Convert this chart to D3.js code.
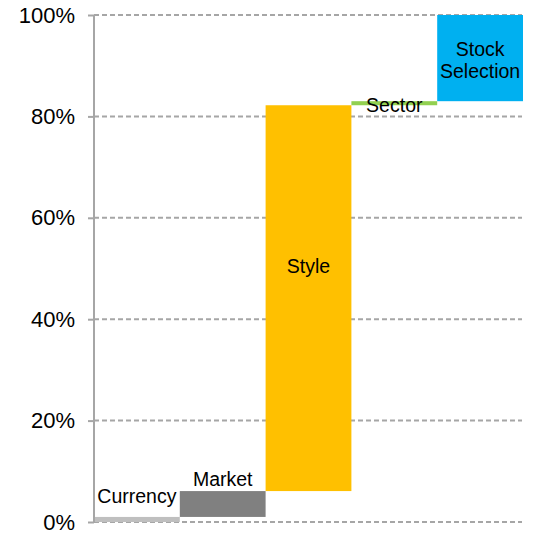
<!DOCTYPE html>
<html>
<head>
<meta charset="utf-8">
<script src="https://cdn.jsdelivr.net/npm/d3@7"></script>
<style>
  body { margin: 0; background: #fff; }
  text { font-family: "Liberation Sans", Arial, sans-serif; fill: #000; }
</style>
</head>
<body>
<div id="chart"></div>
<script>
// waterfall data (percent)
const categories = ["Currency", "Market", "Style", "Sector", "Stock Selection"];
const startValues = [0, 1.0, 6.1, 82.2, 83.0];
const endValues = [1.0, 6.1, 82.2, 83.0, 100];
const barColors = ["#BFBFBF", "#808080", "#FFC000", "#92D050", "#00B0F0"];
const labelLines = [["Currency"], ["Market"], ["Style"], ["Sector"], ["Stock", "Selection"]];
const yTicks = [0, 20, 40, 60, 80, 100];

const width = 533, height = 539;
const margin = { left: 94, right: 10, top: 15, bottom: 17 };

const svg = d3.select("#chart").append("svg")
    .attr("width", width)
    .attr("height", height);

const xScale = d3.scaleBand()
    .domain(categories)
    .range([margin.left, width - margin.right])
    .padding(0);

const yScale = d3.scaleLinear()
    .domain([0, 100])
    .range([height - margin.bottom, margin.top]);

// gridlines
svg.append("g")
    .selectAll("line")
    .data(yTicks)
    .enter().append("line")
    .attr("x1", margin.left)
    .attr("x2", width - margin.right - 1)
    .attr("y1", d => yScale(d))
    .attr("y2", d => yScale(d))
    .attr("stroke", "#A6A6A6")
    .attr("stroke-width", 2)
    .attr("stroke-dasharray", "5,3");

const data = categories.map((c, i) => ({
    cat: c, lo: startValues[i], hi: endValues[i], color: barColors[i], lines: labelLines[i]
}));

// bars
svg.append("g")
    .selectAll("rect")
    .data(data)
    .enter().append("rect")
    .attr("x", d => xScale(d.cat))
    .attr("width", xScale.bandwidth())
    .attr("y", d => yScale(d.hi))
    .attr("height", d => yScale(d.lo) - yScale(d.hi))
    .attr("fill", d => d.color);

// y axis
const yAxis = svg.append("g")
    .attr("transform", "translate(" + margin.left + ",0)")
    .call(d3.axisLeft(yScale).tickValues(yTicks).tickSize(6).tickPadding(13).tickFormat(d => d + "%"));

yAxis.select(".domain")
    .attr("stroke", "#A6A6A6")
    .attr("stroke-width", 2)
    .attr("d", "M0," + yScale(100) + "V" + yScale(0));
yAxis.selectAll(".tick line").attr("stroke", "#A6A6A6").attr("stroke-width", 2);
yAxis.selectAll(".tick text")
    .style("font-family", "'Liberation Sans', Arial, sans-serif")
    .style("font-size", "22px")
    .attr("fill", "#000");

// labels: offsets relative to the bar
const labelOffsets = [
    { ref: "hi", dy: -14 },
    { ref: "hi", dy: -5 },
    { ref: "mid", dy: -25 },
    { ref: "lo", dy: 7 },
    { ref: "mid", dy: 2 }
];

const labels = svg.append("g")
    .selectAll("text")
    .data(data)
    .enter().append("text")
    .attr("text-anchor", "middle")
    .style("font-size", "19.5px")
    .attr("x", (d, i) => xScale(d.cat) + xScale.bandwidth() / 2)
    .attr("y", (d, i) => {
        const o = labelOffsets[i];
        const v = o.ref === "hi" ? d.hi : o.ref === "lo" ? d.lo : (d.lo + d.hi) / 2;
        return yScale(v) + o.dy;
    });

labels.each(function(d) {
    const t = d3.select(this);
    const n = d.lines.length;
    d.lines.forEach((line, j) => {
        t.append("tspan")
            .attr("x", t.attr("x"))
            .attr("dy", j === 0 ? (n > 1 ? -0.55 * (n - 1) + 0.35 : 0) + "em" : "1.1em")
            .text(line);
    });
});
</script>
</body>
</html>
